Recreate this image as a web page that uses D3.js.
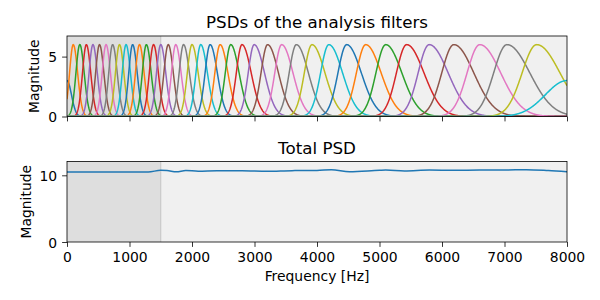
<!DOCTYPE html>
<html lang="en">
<head>
    <meta charset="UTF-8">
    <title>PSDs of the analysis filters</title>
    <script src="https://cdn.jsdelivr.net/npm/d3@7"></script>
    <style>
        body { margin: 0; background: white; }
        svg text { font-family: "DejaVu Sans", sans-serif; fill: black; }
        .tick-label { font-size: 13.9px; }
        .axis-label { font-size: 13.9px; }
        .title { font-size: 16.7px; }
    </style>
</head>
<body>
    <div id="chart"></div>
    <script>
    // filter centres (Hz), and their peak heights
    var filterCenters = [0, 100, 205, 310, 415, 520, 625, 730, 840, 945, 1050, 1160, 1270, 1385, 1500,
        1620, 1740, 1865, 2000, 2140, 2290, 2450, 2620, 2800, 2995, 3210, 3435, 3670, 3920,
        4190, 4475, 4780, 5100, 5435, 5795, 6190, 6605, 7040, 7515, 8000];
    var filterPeaks = [3, 6, 6, 6, 6, 6, 6, 6, 6, 6, 6, 6, 6, 6, 6, 6, 6, 6, 6, 6,
        6, 6, 6, 6, 6, 6, 6, 6, 6, 6, 6, 6, 6, 6, 6, 6, 6, 6, 6, 3];

    // total PSD
    var totalFreq = [0, 500, 1000, 1300, 1500, 1600, 1750, 1900, 2100, 2400, 2800, 3200, 3600, 4000,
        4230, 4520, 5000, 5100, 5400, 5800, 6200, 6600, 7000, 7350, 7700, 8000];
    var totalPsd = [10.5, 10.5, 10.5, 10.5, 10.75, 10.72, 10.52, 10.72, 10.62, 10.68, 10.68, 10.6, 10.7, 10.72,
        10.85, 10.55, 10.75, 10.78, 10.65, 10.78, 10.75, 10.78, 10.78, 10.85, 10.72, 10.55];

    var xTicks = [0, 1000, 2000, 3000, 4000, 5000, 6000, 7000, 8000];
    var topYTicks = [0, 5];
    var bottomYTicks = [0, 10];
    var linearBandEdge = 1500;

    var colors = ['#1f77b4', '#ff7f0e', '#2ca02c', '#d62728', '#9467bd',
                  '#8c564b', '#e377c2', '#7f7f7f', '#bcbd22', '#17becf'];

    var svg = d3.select('#chart').append('svg')
        .attr('width', 600)
        .attr('height', 300);

    var left = 67, right = 567;
    var x = d3.scaleLinear().domain([0, 8000]).range([left, right]);

    function drawPanel(top, bottom, ymax, yTicks, title, labelX, id, drawData, showXLabels)
    {
        var y = d3.scaleLinear().domain([0, ymax]).range([bottom, top]);
        var g = svg.append('g');

        g.append('rect').attr('x', left).attr('y', top)
            .attr('width', right - left).attr('height', bottom - top)
            .attr('fill', '#f0f0f0');
        g.append('rect').attr('x', left).attr('y', top)
            .attr('width', x(linearBandEdge) - left).attr('height', bottom - top)
            .attr('fill', '#dedede');
        g.append('line')
            .attr('x1', x(linearBandEdge)).attr('x2', x(linearBandEdge))
            .attr('y1', top).attr('y2', bottom)
            .attr('stroke', '#c4c4c4').attr('stroke-width', 1);

        svg.append('clipPath').attr('id', id)
            .append('rect').attr('x', left).attr('y', top)
            .attr('width', right - left).attr('height', bottom - top);

        var plot = g.append('g').attr('clip-path', 'url(#' + id + ')');
        drawData(plot, y);

        // spines
        g.append('rect').attr('x', left).attr('y', top)
            .attr('width', right - left).attr('height', bottom - top)
            .attr('fill', 'none').attr('stroke', 'black').attr('stroke-width', 0.8);

        var xAxis = d3.axisBottom(x).tickValues(xTicks).tickSize(4.9).tickPadding(4.9)
            .tickFormat(showXLabels ? d3.format('d') : '');
        var xa = g.append('g').attr('transform', 'translate(0,' + bottom + ')').call(xAxis);
        xa.select('.domain').remove();
        xa.selectAll('line').attr('stroke', 'black').attr('stroke-width', 0.8);
        xa.selectAll('text').attr('class', 'tick-label').attr('font-size', null)
            .attr('font-family', null).attr('dy', null).attr('y', 19.5);

        var yAxis = d3.axisLeft(y).tickValues(yTicks).tickSize(4.9).tickPadding(4.9)
            .tickFormat(d3.format('d'));
        var ya = g.append('g').attr('transform', 'translate(' + left + ',0)').call(yAxis);
        ya.select('.domain').remove();
        ya.selectAll('line').attr('stroke', 'black').attr('stroke-width', 0.8);
        ya.selectAll('text').attr('class', 'tick-label').attr('font-size', null)
            .attr('font-family', null).attr('dy', '0.36em');

        g.append('text').attr('class', 'title')
            .attr('x', (left + right) / 2).attr('y', top - 8)
            .attr('text-anchor', 'middle').text(title);

        g.append('text').attr('class', 'axis-label')
            .attr('transform', 'translate(' + labelX + ',' + ((top + bottom) / 2) + ') rotate(-90)')
            .attr('text-anchor', 'middle').text('Magnitude');
    }

    // bell shape of each filter, a bit wider on the high side once the spacing is warped
    function filterCurve(i)
    {
        var c = filterCenters[i], n = filterCenters.length;
        var dl = i > 0 ? c - filterCenters[i - 1] : filterCenters[1] - c;
        var dr = i < n - 1 ? filterCenters[i + 1] - c : c - filterCenters[n - 2];
        var skew = 0.06 + 0.16 * Math.min(1, Math.max(0, (c - 1500) / 1500));
        var k = 0.63;
        var sl = k * dl * (1 - skew), sr = k * dr * (1 + skew);
        if (i === 0 || i === n - 1) { sl = sr = 0.57 * Math.max(dl, dr) * 1.25; }
        var pts = [];
        for (var f = 0; f <= 8000; f += 4)
        {
            var s = f < c ? sl : sr;
            pts.push([f, filterPeaks[i] * Math.exp(-(f - c) * (f - c) / (2 * s * s))]);
        }
        return pts;
    }

    drawPanel(36, 116.5, 6.72, topYTicks, 'PSDs of the analysis filters', 39.4, 'clipTop', function(plot, y)
    {
        var line = d3.line().x(function(d) { return x(d[0]); }).y(function(d) { return y(d[1]); });
        filterCenters.forEach(function(c, i)
        {
            plot.append('path').datum(filterCurve(i))
                .attr('d', line)
                .attr('fill', 'none')
                .attr('stroke', colors[i % 10])
                .attr('stroke-width', 1.5);
        });
    }, false);

    drawPanel(161.5, 242, 12.07, bottomYTicks, 'Total PSD', 30.5, 'clipBottom', function(plot, y)
    {
        var line = d3.line()
            .x(function(d, i) { return x(totalFreq[i]); })
            .y(function(d) { return y(d); })
            .curve(d3.curveMonotoneX);
        plot.append('path').datum(totalPsd)
            .attr('d', line)
            .attr('fill', 'none')
            .attr('stroke', '#1f77b4')
            .attr('stroke-width', 1.5);
    }, true);

    svg.append('text').attr('class', 'axis-label')
        .attr('x', (left + right) / 2).attr('y', 281)
        .attr('text-anchor', 'middle').text('Frequency [Hz]');
    </script>
</body>
</html>
